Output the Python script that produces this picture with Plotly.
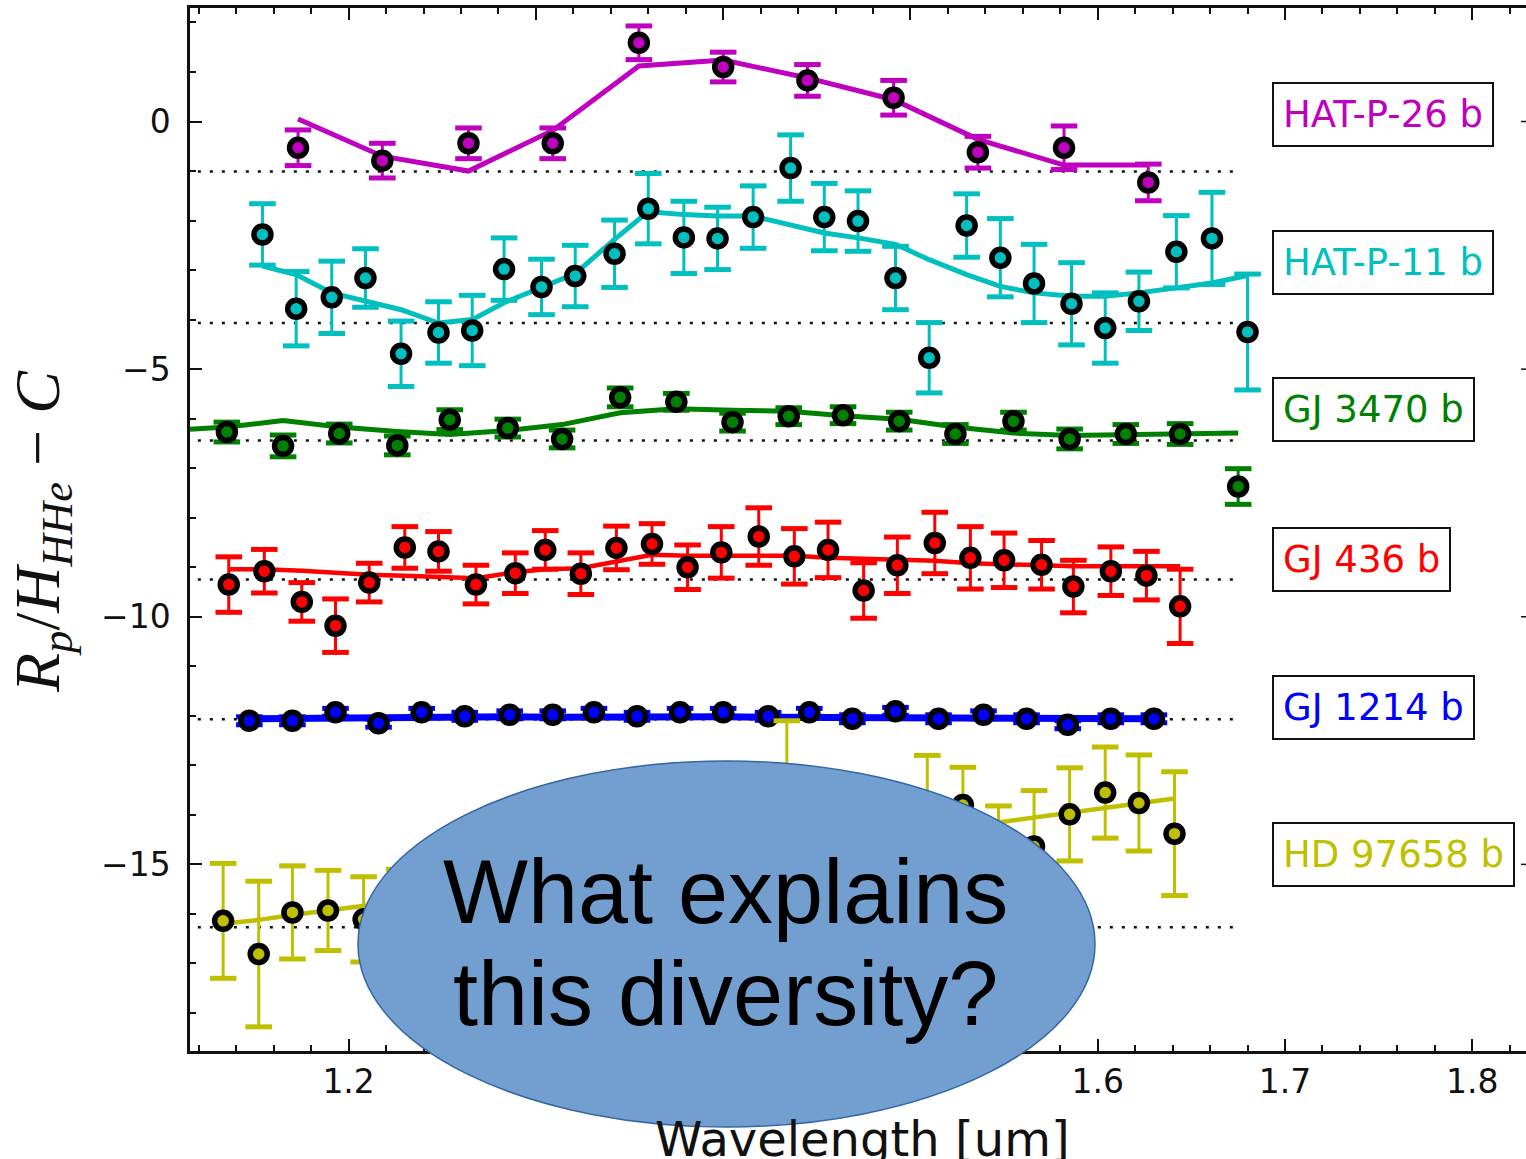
import plotly.graph_objects as go

# ---------------- transmission spectra (wavelength in um) ----------------
# HAT-P-26 b
hatp26_wl = [1.173, 1.218, 1.264, 1.309, 1.355, 1.400, 1.445, 1.491, 1.536, 1.582, 1.627]
hatp26_val = [-0.53, -0.79, -0.44, -0.44, 1.59, 1.10, 0.83, 0.48, -0.62, -0.53, -1.23]
hatp26_err = [0.36, 0.35, 0.31, 0.31, 0.34, 0.30, 0.32, 0.35, 0.32, 0.44, 0.37]
hatp26_model_wl = hatp26_wl
hatp26_model = [0.05, -0.70, -1.00, -0.18, 1.12, 1.24, 0.88, 0.44, -0.36, -0.88, -0.88]
hatp26_flat = -1.01

# HAT-P-11 b
hatp11_wl = [1.154, 1.172, 1.191, 1.209, 1.228, 1.248, 1.266, 1.283, 1.303, 1.321,
             1.342, 1.360, 1.379, 1.397, 1.416, 1.436, 1.454, 1.472, 1.492, 1.510,
             1.530, 1.548, 1.566, 1.586, 1.604, 1.622, 1.642, 1.661, 1.680]
hatp11_val = [-2.28, -3.78, -3.55, -3.16, -4.69, -4.26, -4.22, -2.98, -3.34, -3.12,
              -2.67, -1.76, -2.34, -2.36, -1.93, -0.94, -1.93, -2.01, -3.16, -4.77,
              -2.10, -2.75, -3.27, -3.68, -4.17, -3.63, -2.63, -2.36, -4.25]
hatp11_err = [0.62, 0.75, 0.73, 0.59, 0.66, 0.62, 0.71, 0.63, 0.56, 0.62,
              0.68, 0.71, 0.73, 0.63, 0.63, 0.67, 0.68, 0.61, 0.64, 0.71,
              0.64, 0.79, 0.79, 0.83, 0.71, 0.59, 0.73, 0.93, 1.17]
hatp11_model_wl = hatp11_wl
hatp11_model = [-2.92, -3.09, -3.46, -3.63, -3.80, -4.07, -4.00, -3.66, -3.34, -3.07,
                -2.38, -1.82, -1.88, -1.91, -1.91, -2.08, -2.25, -2.35, -2.48, -2.79,
                -3.09, -3.33, -3.46, -3.53, -3.53, -3.46, -3.36, -3.26, -3.11]
hatp11_flat = -4.07

# GJ 3470 b
gj3470_wl = [1.135, 1.165, 1.195, 1.226, 1.254, 1.285, 1.314, 1.345, 1.375, 1.405,
             1.435, 1.464, 1.494, 1.524, 1.555, 1.585, 1.615, 1.644, 1.675]
gj3470_val = [-6.27, -6.55, -6.30, -6.54, -6.02, -6.19, -6.41, -5.57, -5.66, -6.07,
              -5.95, -5.93, -6.05, -6.31, -6.05, -6.41, -6.31, -6.31, -7.37]
gj3470_err = [0.20, 0.22, 0.19, 0.19, 0.20, 0.18, 0.18, 0.19, 0.17, 0.18,
              0.17, 0.17, 0.18, 0.19, 0.18, 0.20, 0.19, 0.21, 0.36]
gj3470_model_wl = [1.105, 1.135, 1.165, 1.195, 1.226, 1.254, 1.285, 1.314, 1.345, 1.375,
                   1.405, 1.435, 1.464, 1.494, 1.524, 1.555, 1.585, 1.615, 1.644, 1.675]
gj3470_model = [-6.24, -6.17, -6.04, -6.17, -6.26, -6.32, -6.24, -6.12, -5.88, -5.80,
                -5.83, -5.85, -5.94, -6.01, -6.17, -6.29, -6.34, -6.32, -6.31, -6.29]
gj3470_flat = -6.44

# GJ 436 b
gj436_wl = [1.136, 1.155, 1.175, 1.193, 1.211, 1.230, 1.248, 1.268, 1.289, 1.305,
            1.324, 1.343, 1.362, 1.381, 1.399, 1.419, 1.438, 1.456, 1.475, 1.493,
            1.513, 1.532, 1.550, 1.570, 1.587, 1.607, 1.626, 1.644]
gj436_val = [-9.35, -9.08, -9.70, -10.18, -9.31, -8.60, -8.68, -9.35, -9.12, -8.65,
             -9.13, -8.61, -8.53, -9.00, -8.70, -8.38, -8.78, -8.65, -9.47, -8.96,
             -8.51, -8.81, -8.86, -8.95, -9.39, -9.08, -9.17, -9.79]
gj436_err = [0.56, 0.44, 0.39, 0.54, 0.39, 0.42, 0.40, 0.39, 0.41, 0.39,
             0.42, 0.44, 0.41, 0.45, 0.52, 0.58, 0.56, 0.56, 0.56, 0.57,
             0.62, 0.63, 0.55, 0.49, 0.53, 0.49, 0.49, 0.75]
gj436_model_wl = gj436_wl
gj436_model = [-9.04, -9.04, -9.07, -9.12, -9.15, -9.17, -9.20, -9.22, -9.10, -9.04,
               -9.02, -8.88, -8.75, -8.77, -8.77, -8.75, -8.77, -8.81, -8.83, -8.85,
               -8.87, -8.92, -8.94, -8.97, -8.98, -8.98, -8.98, -8.98]
gj436_flat = -9.25

# GJ 1214 b
gj1214_wl = [1.147, 1.170, 1.193, 1.216, 1.239, 1.262, 1.286, 1.309, 1.331, 1.354,
             1.377, 1.400, 1.424, 1.446, 1.469, 1.492, 1.515, 1.539, 1.562, 1.584,
             1.607, 1.630]
gj1214_val = [-12.10, -12.10, -11.93, -12.15, -11.93, -12.01, -11.98, -11.98, -11.93, -12.01,
              -11.93, -11.93, -12.01, -11.93, -12.06, -11.91, -12.06, -11.98, -12.06, -12.18,
              -12.06, -12.06]
gj1214_err = [0.08, 0.08, 0.08, 0.08, 0.08, 0.08, 0.08, 0.08, 0.08, 0.08,
              0.08, 0.08, 0.08, 0.08, 0.08, 0.08, 0.08, 0.08, 0.08, 0.08,
              0.08, 0.08]
gj1214_model_wl = gj1214_wl
gj1214_model = [-12.06, -12.05, -12.03, -12.04, -12.02, -12.03, -12.02, -12.03, -12.02, -12.03,
                -12.02, -12.02, -12.03, -12.03, -12.04, -12.04, -12.05, -12.05, -12.06, -12.06,
                -12.06, -12.06]
gj1214_flat = -12.07

# HD 97658 b
hd97658_wl = [1.133, 1.152, 1.170, 1.189, 1.208, 1.227, 1.246, 1.265, 1.283, 1.302,
              1.321, 1.340, 1.359, 1.378, 1.396, 1.415, 1.434, 1.453, 1.472, 1.491,
              1.509, 1.528, 1.547, 1.566, 1.585, 1.604, 1.622, 1.641]
hd97658_val = [-16.14, -16.81, -15.97, -15.93, -16.11, -15.70, -15.90, -15.40, -15.70, -15.20,
               -15.50, -15.00, -15.30, -14.90, -14.70, -14.90, -13.60, -14.60, -14.40, -14.50,
               -14.00, -13.80, -14.80, -14.64, -13.99, -13.55, -13.76, -14.38]
hd97658_err = [1.16, 1.47, 0.94, 0.81, 0.86, 0.60, 0.70, 0.80, 0.80, 0.90,
               0.80, 0.90, 0.80, 0.90, 0.90, 0.80, 1.50, 0.90, 0.90, 0.90,
               1.20, 0.76, 0.98, 1.13, 0.94, 0.92, 0.97, 1.25]
hd97658_model_wl = hd97658_wl
hd97658_model = [-16.20, -16.12, -16.02, -15.93, -15.84, -15.75, -15.66, -15.56, -15.47, -15.38,
                 -15.28, -15.18, -15.09, -15.00, -14.90, -14.81, -14.72, -14.62, -14.53, -14.44,
                 -14.35, -14.25, -14.15, -14.06, -13.96, -13.87, -13.77, -13.67]
hd97658_flat = -16.27

planet_names = ["HAT-P-26 b", "HAT-P-11 b", "GJ 3470 b", "GJ 436 b", "GJ 1214 b", "HD 97658 b"]
flat_span = [1.1195, 1.6753]

# ---------------- styling ----------------
colors = ["#bf00bf", "#00bfbf", "#008000", "#ff0000", "#0000ff", "#bfbf00"]
model_widths = [5, 5, 5, 4.5, 7, 4.5]

spectra = [
    (hatp26_wl, hatp26_val, hatp26_err, hatp26_model_wl, hatp26_model, hatp26_flat),
    (hatp11_wl, hatp11_val, hatp11_err, hatp11_model_wl, hatp11_model, hatp11_flat),
    (gj3470_wl, gj3470_val, gj3470_err, gj3470_model_wl, gj3470_model, gj3470_flat),
    (gj436_wl, gj436_val, gj436_err, gj436_model_wl, gj436_model, gj436_flat),
    (gj1214_wl, gj1214_val, gj1214_err, gj1214_model_wl, gj1214_model, gj1214_flat),
    (hd97658_wl, hd97658_val, hd97658_err, hd97658_model_wl, hd97658_model, hd97658_flat),
]

fig = go.Figure()

# flat-spectrum reference lines
for (_, _, _, _, _, flat) in spectra:
    fig.add_trace(go.Scatter(
        x=flat_span, y=[flat, flat], mode="lines",
        line=dict(color="#111111", width=2.5, dash="3px,9px"),
        hoverinfo="skip", showlegend=False))

# model curves
for (wl, val, err, mwl, mval, flat), col, lw in zip(spectra, colors, model_widths):
    fig.add_trace(go.Scatter(
        x=mwl, y=mval, mode="lines",
        line=dict(color=col, width=lw),
        hoverinfo="skip", showlegend=False))

# measured points: thin error bars, heavy caps, black-rimmed markers
for (wl, val, err, mwl, mval, flat), col, name in zip(spectra, colors, planet_names):
    fig.add_trace(go.Scatter(
        x=wl, y=val, mode="markers",
        marker=dict(size=1, color="rgba(0,0,0,0)"),
        error_y=dict(type="data", array=err, color=col, thickness=3, width=0),
        hoverinfo="skip", showlegend=False))
    cap_x = list(wl) + list(wl)
    cap_y = [v + e for v, e in zip(val, err)] + [v - e for v, e in zip(val, err)]
    fig.add_trace(go.Scatter(
        x=cap_x, y=cap_y, mode="markers",
        marker=dict(symbol="line-ew", size=19, line=dict(color=col, width=5)),
        hoverinfo="skip", showlegend=False))
    fig.add_trace(go.Scatter(
        x=wl, y=val, mode="markers", name=name,
        marker=dict(size=17, color=col, line=dict(color="black", width=5.5)),
        showlegend=False))

# ---------------- layout ----------------
W, H = 1526, 1159
L, R, T, B = 190, 0, 8, 108
X_RANGE = [1.11531, 1.82868]
Y_RANGE = [-18.768, 2.292]

def px_to_paper_x(px):
    return (px - L) / (W - L - R)

def px_to_paper_y(py):
    return (H - B - py) / (H - T - B)

# planet name boxes
label_y = [0.15, -2.84, -5.82, -8.84, -11.83, -14.81]
annotations = []
for name, col, ly in zip(planet_names, colors, label_y):
    annotations.append(dict(
        x=1.6929, y=ly, xref="x", yref="y", xanchor="left", yanchor="middle",
        text=name, showarrow=False,
        font=dict(family="DejaVu Sans", size=37, color=col),
        bgcolor="white", bordercolor="#111111", borderwidth=2, borderpad=9))

# axis titles
annotations.append(dict(
    x=px_to_paper_x(862), y=px_to_paper_y(1109), xref="paper", yref="paper",
    xanchor="center", yanchor="top", showarrow=False,
    text="Wavelength [um]",
    font=dict(family="DejaVu Sans", size=48, color="#111111")))
annotations.append(dict(
    x=px_to_paper_x(42), y=px_to_paper_y(532), xref="paper", yref="paper",
    xanchor="center", yanchor="middle", showarrow=False, textangle=-90,
    text="<i>R</i><sub><i>p</i></sub>/<i>H</i><sub><i>HHe</i></sub> \u2212 <i>C</i>",
    font=dict(family="Liberation Serif", size=64, color="#111111")))

# question in the callout ellipse
annotations.append(dict(
    x=px_to_paper_x(725), y=px_to_paper_y(892), xref="paper", yref="paper",
    xanchor="center", yanchor="middle", showarrow=False,
    text="What explains",
    font=dict(family="Liberation Sans", size=90, color="black")))
annotations.append(dict(
    x=px_to_paper_x(725), y=px_to_paper_y(994), xref="paper", yref="paper",
    xanchor="center", yanchor="middle", showarrow=False,
    text="this diversity?",
    font=dict(family="Liberation Sans", size=90, color="black")))

shapes = [
    dict(type="circle", xref="paper", yref="paper",
         x0=px_to_paper_x(358), x1=px_to_paper_x(1095),
         y0=px_to_paper_y(1127), y1=px_to_paper_y(761),
         fillcolor="#729fcf", line=dict(color="#3465a4", width=1.5), layer="above"),
]
# inward ticks of the right-hand spine just past the edge
for yt in [0, -5, -10, -15]:
    shapes.append(dict(type="line", xref="paper", yref="y",
                       x0=px_to_paper_x(1521), x1=1.0, y0=yt, y1=yt,
                       line=dict(color="#111111", width=1.5)))

tickfont = dict(family="DejaVu Sans", size=33, color="#111111")

fig.update_layout(
    width=W, height=H,
    margin=dict(l=L, r=R, t=T, b=B),
    paper_bgcolor="white", plot_bgcolor="white",
    showlegend=False,
    annotations=annotations,
    shapes=shapes,
    xaxis=dict(
        range=X_RANGE, tick0=1.0, dtick=0.1, tickformat=".1f",
        ticks="inside", ticklen=12, tickwidth=1.5, tickcolor="#111111",
        minor=dict(tick0=1.0, dtick=0.02, ticks="inside", ticklen=6,
                   tickwidth=1.5, tickcolor="#111111"),
        showline=True, linecolor="#111111", linewidth=2.5, mirror="ticks",
        showgrid=False, zeroline=False, tickfont=tickfont, ticklabelstandoff=0),
    yaxis=dict(
        range=Y_RANGE, tick0=0, dtick=5,
        ticks="inside", ticklen=12, tickwidth=1.5, tickcolor="#111111",
        minor=dict(tick0=0, dtick=1, ticks="inside", ticklen=6,
                   tickwidth=1.5, tickcolor="#111111"),
        showline=True, linecolor="#111111", linewidth=2.5, mirror=False,
        showgrid=False, zeroline=False, tickfont=tickfont, ticklabelstandoff=10),
)

fig.write_html("out.html")
